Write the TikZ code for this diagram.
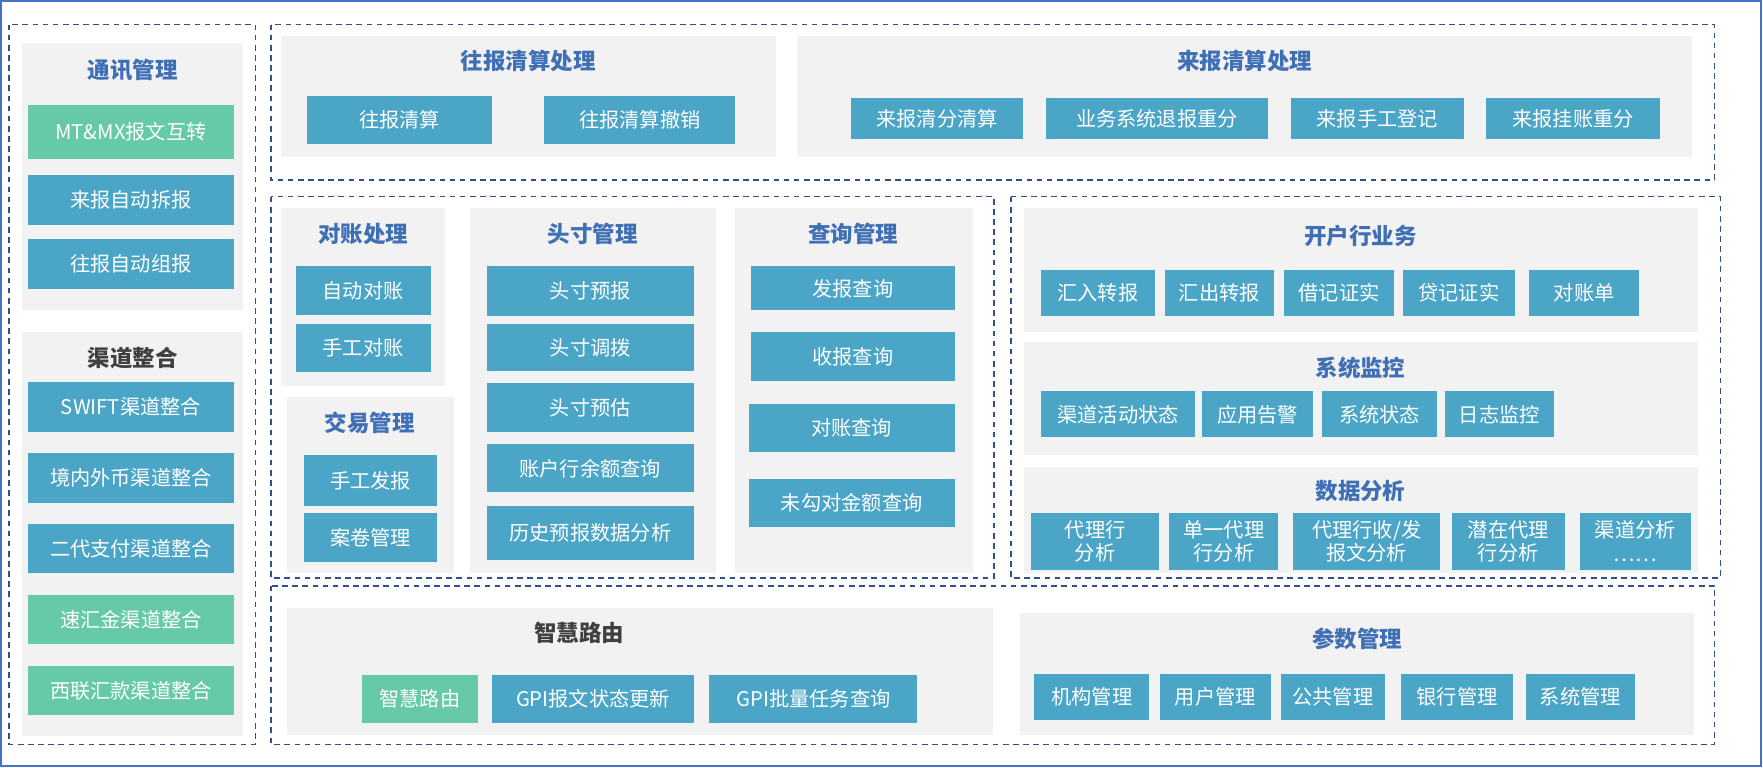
\documentclass[tikz,border=0pt]{standalone}
\usepackage{fontspec}
\setmainfont{Noto Sans CJK SC}
\definecolor{boxblue}{RGB}{75,165,199}
\definecolor{boxgreen}{RGB}{102,201,168}
\definecolor{panelgray}{RGB}{242,242,242}
\definecolor{titleblue}{RGB}{63,111,181}
\definecolor{titlegray}{RGB}{64,64,64}
\definecolor{dashblue}{RGB}{47,79,143}
\definecolor{frameblue}{RGB}{68,114,196}
\tikzset{
  blk/.style={fill=boxblue,text=white,inner sep=0pt,font=\fontsize{18}{21}\selectfont,align=center},
  grn/.style={blk,fill=boxgreen},
  ttl/.style={text=titleblue,font=\fontsize{20}{24}\selectfont\bfseries},
  ttlg/.style={ttl,text=titlegray},
  panel/.style={fill=panelgray},
  zone/.style={draw=dashblue,line width=1.3pt,dash pattern=on 5pt off 4pt}
}
% box from corner (x1,y1) to corner (x2,y2)
\newcommand{\bx}[7]{\node[#7,minimum width={#4-#2},minimum height={#5-#3}] (#1) at ({(#2+#4)/2},{(#3+#5)/2}) {#6};}
\begin{document}
\begin{tikzpicture}[x=1pt,y=-1pt]
\useasboundingbox (0,0) rectangle (1568,683);
\draw[frameblue,line width=1.5pt] (1,1) rectangle (1566,681);
% dashed zones
\draw[zone] (8,22) rectangle (227,662);
\draw[zone] (241,22) rectangle (1525,160);
\draw[zone] (241,175) rectangle (884,514);
\draw[zone] (899,175) rectangle (1530,514);
\draw[zone] (241,521) rectangle (1525,662);
% panels
\foreach \a/\b/\c/\d in {20/38/216/276, 20/295/216/655, 250/32/690/140, 709/32/1505/140,
  250/185/396/343, 255/353/404/510, 418/185/637/510, 654/185/865/510,
  911/185/1510/295, 911/304/1510/405, 911/415/1510/510, 255/541/883/654, 907/545/1507/654}
  \fill[panel] (\a,\b) rectangle (\c,\d);
% left column
\node[ttl] (txgl) at (118,62) {通讯管理};
\bx{mtmx}{25}{93}{208}{141}{MT\&MX报文互转}{grn}
\bx{lbcb}{25}{156}{208}{200}{来报自动拆报}{blk}
\bx{wbzb}{25}{213}{208}{257}{往报自动组报}{blk}
\node[ttlg] (qdzh) at (118,318) {渠道整合};
\bx{swift}{25}{340}{208}{384}{SWIFT渠道整合}{blk}
\bx{jnwb}{25}{403}{208}{447}{境内外币渠道整合}{blk}
\bx{edzf}{25}{466}{208}{510}{二代支付渠道整合}{blk}
\bx{shj}{25}{529}{208}{573}{速汇金渠道整合}{grn}
\bx{xlhk}{25}{592}{208}{636}{西联汇款渠道整合}{grn}
% clearing
\node[ttl] (wbqs) at (470,54) {往报清算处理};
\bx{wbqs1}{273}{85}{438}{128}{往报清算}{blk}
\bx{wbqs2}{484}{85}{654}{128}{往报清算撤销}{blk}
\node[ttl] (lbqs) at (1107,54) {来报清算处理};
\bx{lb1}{757}{87}{910}{124}{来报清分清算}{blk}
\bx{lb2}{930}{87}{1128}{124}{业务系统退报重分}{blk}
\bx{lb3}{1148}{87}{1302}{124}{来报手工登记}{blk}
\bx{lb4}{1322}{87}{1476}{124}{来报挂账重分}{blk}
% middle left
\node[ttl] (dzcl) at (323,208) {对账处理};
\bx{zddz}{263}{237}{383}{280}{自动对账}{blk}
\bx{sgdz}{263}{288}{383}{331}{手工对账}{blk}
\node[ttl] (jygl) at (329,376) {交易管理};
\bx{sgfb}{270}{405}{389}{450}{手工发报}{blk}
\bx{ajgl}{270}{456}{389}{500}{案卷管理}{blk}
\node[ttl] (tcgl) at (527,208) {头寸管理};
\bx{tc1}{433}{237}{617}{281}{头寸预报}{blk}
\bx{tc2}{433}{288}{617}{330}{头寸调拨}{blk}
\bx{tc3}{433}{341}{617}{384}{头寸预估}{blk}
\bx{tc4}{433}{395}{617}{438}{账户行余额查询}{blk}
\bx{tc5}{433}{450}{617}{498}{历史预报数据分析}{blk}
\node[ttl] (cxgl) at (759,208) {查询管理};
\bx{cx1}{668}{237}{849}{276}{发报查询}{blk}
\bx{cx2}{668}{295}{849}{339}{收报查询}{blk}
\bx{cx3}{666}{359}{849}{402}{对账查询}{blk}
\bx{cx4}{666}{426}{849}{469}{未勾对金额查询}{blk}
% middle right
\node[ttl] (khh) at (1210,210) {开户行业务};
\bx{kh1}{926}{240}{1027}{281}{汇入转报}{blk}
\bx{kh2}{1036}{240}{1133}{281}{汇出转报}{blk}
\bx{kh3}{1142}{240}{1240}{281}{借记证实}{blk}
\bx{kh4}{1248}{240}{1347}{281}{贷记证实}{blk}
\bx{kh5}{1360}{240}{1458}{281}{对账单}{blk}
\node[ttl] (xtjk) at (1210,327) {系统监控};
\bx{jk1}{926}{348}{1063}{389}{渠道活动状态}{blk}
\bx{jk2}{1069}{348}{1168}{389}{应用告警}{blk}
\bx{jk3}{1176}{348}{1278}{389}{系统状态}{blk}
\bx{jk4}{1285}{348}{1382}{389}{日志监控}{blk}
\node[ttl] (sjfx) at (1210,437) {数据分析};
\bx{fx1}{917}{456}{1031}{507}{代理行\\分析}{blk}
\bx{fx2}{1040}{456}{1137}{507}{单一代理\\行分析}{blk}
\bx{fx3}{1150}{456}{1281}{507}{代理行收/发\\报文分析}{blk}
\bx{fx4}{1291}{456}{1392}{507}{潜在代理\\行分析}{blk}
\bx{fx5}{1405}{456}{1504}{507}{渠道分析\\……}{blk}
% bottom
\node[ttlg] (zhly) at (515,563) {智慧路由};
\bx{ly1}{322}{600}{425}{643}{智慧路由}{grn}
\bx{ly2}{438}{600}{617}{643}{GPI报文状态更新}{blk}
\bx{ly3}{631}{600}{816}{643}{GPI批量任务查询}{blk}
\node[ttl] (csgl) at (1207,568) {参数管理};
\bx{cs1}{920}{599}{1022}{640}{机构管理}{blk}
\bx{cs2}{1032}{599}{1130}{640}{用户管理}{blk}
\bx{cs3}{1139}{599}{1232}{640}{公共管理}{blk}
\bx{cs4}{1246}{599}{1346}{640}{银行管理}{blk}
\bx{cs5}{1357}{599}{1454}{640}{系统管理}{blk}
\end{tikzpicture}
\end{document}
